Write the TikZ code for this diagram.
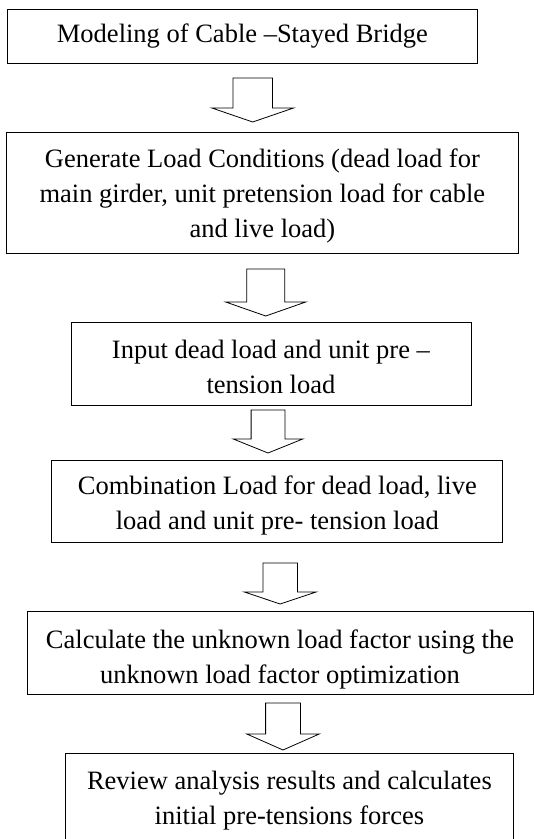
\documentclass[tikz,border=0pt]{standalone}
\usepackage{fontspec}
\setmainfont{Liberation Serif}

\tikzset{
  stepbox/.style={draw, line width=0.8pt, align=center, inner sep=0pt,
    anchor=north west, font=\fontsize{26.5}{35}\selectfont},
}
% strut that lowers the text of a box by #1
\newcommand{\lowertext}[1]{\rule{0pt}{\dimexpr 18pt+2\dimexpr #1\relax\relax}}
% hollow down arrow: centre x, top, head base, tip, shaft half width, head half width
\newcommand{\hollowarrow}[6]{%
  \draw[line width=0.8pt] ({#1-#5},#2) -- ({#1+#5},#2) -- ({#1+#5},#3) -- ({#1+#6},#3)
    -- (#1,#4) -- ({#1-#6},#3) -- ({#1-#5},#3) -- cycle;}

\begin{document}
\begin{tikzpicture}[x=1pt,y=-1pt]
  \clip (0,0) rectangle (534,839);
  \node[stepbox, minimum width=470pt, minimum height=54pt] (model) at (7,9)
    {Modeling of Cable --Stayed Bridge};
  \hollowarrow{252.7}{78}{108}{122}{19.7}{40.8}
  \node[stepbox, minimum width=512pt, minimum height=121pt] (generate) at (6,132)
    {\lowertext{3.5pt}Generate Load Conditions (dead load for\\ main girder, unit pretension load for cable\\ and live load)};
  \hollowarrow{265.7}{269}{302}{316}{19}{40}
  \node[stepbox, minimum width=400pt, minimum height=83pt] (input) at (70.5,322)
    {\lowertext{3.5pt}Input dead load and unit pre --\\ tension load};
  \hollowarrow{268}{410}{439}{453}{16.9}{34.7}
  \node[stepbox, minimum width=451pt, minimum height=82pt] (combine) at (51.4,460)
    {\lowertext{4.5pt}Combination Load for dead load, live\\ load and unit pre- tension load};
  \hollowarrow{280.2}{563}{592}{604}{17.2}{35.8}
  \node[stepbox, minimum width=506pt, minimum height=83pt] (factor) at (26.6,611)
    {\lowertext{7pt}Calculate the unknown load factor using the\\ unknown load factor optimization};
  \hollowarrow{283}{703}{734}{750}{17.4}{36.2}
  \node[stepbox, minimum width=448pt, minimum height=94pt] (review) at (65,753)
    {Review analysis results and calculates\\ initial pre-tensions forces};
\end{tikzpicture}
\end{document}
